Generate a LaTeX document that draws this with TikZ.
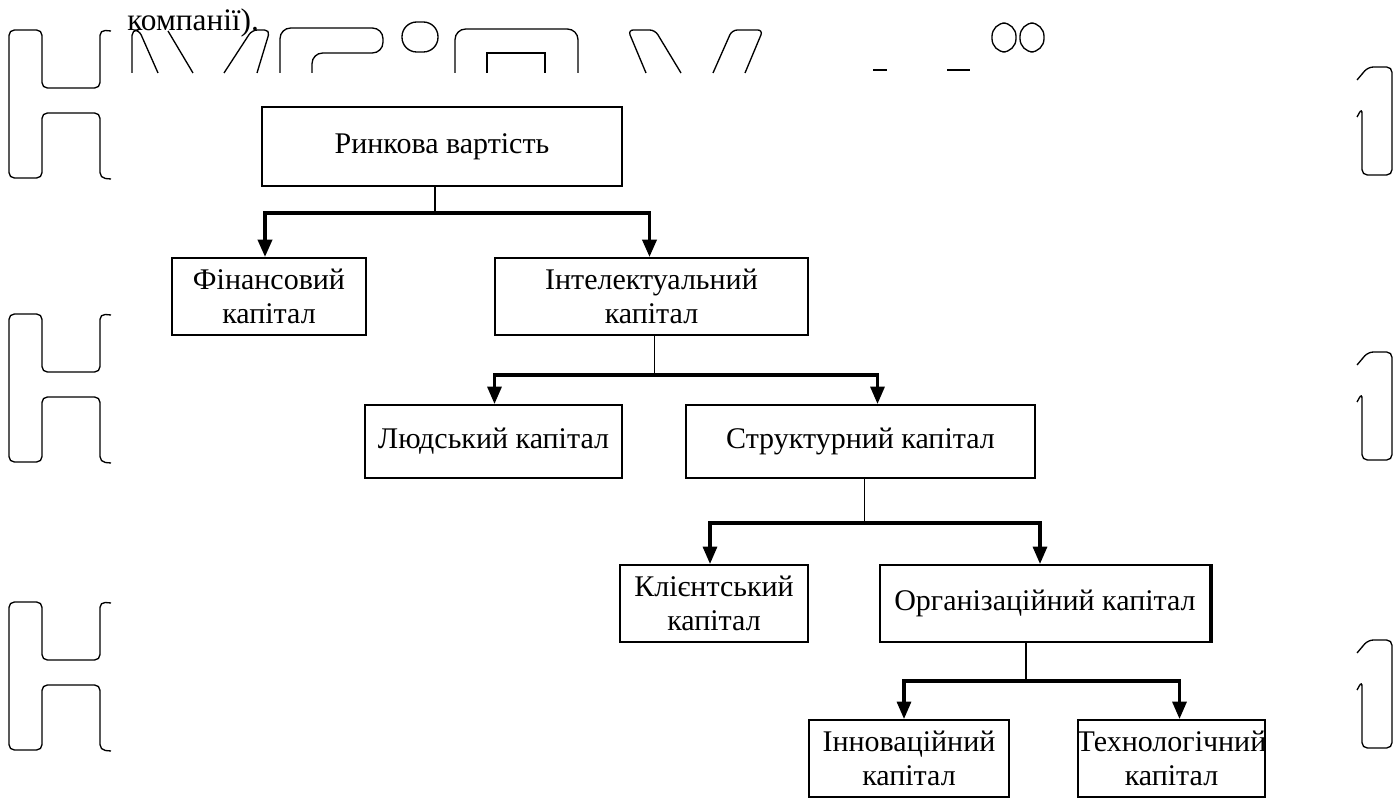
\documentclass[tikz,border=0pt]{standalone}
\usepackage{fontspec}
\setmainfont{Liberation Serif}
\usetikzlibrary{arrows.meta,calc}

\tikzset{
  box/.style={draw, line width=1.5pt, rectangle, inner sep=0pt, align=center,
              font=\fontsize{22.5}{25}\selectfont},
  sz/.style 2 args={minimum width={#1*0.75pt}, minimum height={#2*0.75pt}},
  stem/.style={line width=1.1pt},
  branch/.style={line width=2.3pt, -{Triangle[length=13pt,width=10.5pt]}},
  outline/.style={line width=1pt, rounded corners=4pt}
}

\begin{document}
\begin{tikzpicture}[x=0.75pt, y=-0.75pt]
  \path[use as bounding box] (0,0) rectangle (1399,798);
  \clip (0,0) rectangle (1399,798);

  % running text cut at the top of the page
  \node[anchor=base west, inner sep=0pt, font=\fontsize{23.5}{25}\selectfont] (cap) at (127,31) {компанії).};

  % outline letter fragments along the left edge
  \foreach \t in {30,314,602} {
    \draw[outline] (111,{\t+1}) -- (100,\t) -- (100,{\t+58}) -- (42,{\t+58}) -- (42,\t)
      -- (9,\t) -- (9,{\t+148}) -- (42,{\t+148}) -- (42,{\t+83}) -- (100,{\t+83})
      -- (100,{\t+148}) -- (111,{\t+149});
  }
  % outline letter fragments along the right edge
  \foreach \T in {67,352,640} {
    \draw[outline] (1357,{\T+13}) -- (1368,\T) -- (1392,\T) -- (1392,{\T+108})
      -- (1362,{\T+108}) -- (1362,{\T+41}) -- (1357,{\T+50});
  }
  % outline letter fragments along the top edge
  \draw[outline] (132,73) -- (132,30) -- (139,30) -- (158,73);
  \draw[outline] (168,31) -- (193,73);
  \draw[outline] (224,73) -- (252,30) -- (270,30) -- (257,73);
  \draw[outline, rounded corners=8pt] (280,73) -- (280,28) -- (383,28) -- (383,53) -- (312,53) [sharp corners] -- (312,73);
  \draw[line width=1pt, rounded corners=11pt] (402,22) rectangle (438,52);
  \draw[outline, rounded corners=8pt] (455,73) -- (455,29) -- (578,29) -- (578,73);
  \draw[line width=1pt] (487,73) -- (487,53) -- (545,53) -- (545,73);
  \draw[outline] (646,73) -- (628,30) -- (655,30) -- (681,73);
  \draw[outline] (713,73) -- (732,30) -- (763,30) -- (745,73);
  \draw[line width=1pt] (873,70) -- (887,70);
  \draw[line width=1pt] (947,70) -- (970,70);
  \draw[line width=1pt, rounded corners=10pt] (992,23) rectangle (1016,52);
  \draw[line width=1pt, rounded corners=10pt] (1020,23) rectangle (1044,52);

  % boxes
  \node[box, sz={360}{79}] (R) at (442,146.5) {Ринкова вартість};
  \node[box, sz={194}{77}] (F) at (269,296.5) {Фінансовий\\капітал};
  \node[box, sz={313}{77}] (I) at (651.5,296.5) {Інтелектуальний\\капітал};
  \node[box, sz={257}{73}] (L) at (493.5,441.5) {Людський капітал};
  \node[box, sz={349}{73}] (S) at (860.5,441.5) {Структурний капітал};
  \node[box, sz={188}{77}] (K) at (714,603.5) {Клієнтський\\капітал};
  \node[box, sz={330}{77}] (O) at (1045,603.5) {Організаційний капітал};
  \node[box, sz={200}{77}] (N) at (909,758.5) {Інноваційний\\капітал};
  \node[box, sz={187}{77}] (T) at (1171.5,758.5) {\makebox[0pt]{Технологічний}\\капітал};
  % heavier right edge of the organisational box
  \draw[line width=2.6pt] (O.north east) -- (O.south east);

  % level 1
  \coordinate (j1) at ($(R.south)+(-7,26)$);
  \draw[stem] ($(R.south)+(-7,0)$) -- (j1);
  \draw[branch, line width=2.7pt] (j1) -| ($(F.north)+(-4,0)$);
  \draw[branch, line width=2.7pt] (j1) -| ($(I.north)+(-2,0)$);

  % level 2
  \coordinate (j2) at ($(I.south)+(3,39)$);
  \draw[stem] ($(I.south)+(3,0)$) -- (j2);
  \draw[branch] (j2) -| ($(L.north)+(1,0)$);
  \draw[branch] (j2) -| ($(S.north)+(17,0)$);

  % level 3
  \coordinate (j3) at ($(S.south)+(4,44)$);
  \draw[stem] ($(S.south)+(4,0)$) -- (j3);
  \draw[branch] (j3) -| ($(K.north)+(-4,0)$);
  \draw[branch] (j3) -| ($(O.north)+(-5,0)$);

  % level 4
  \coordinate (j4) at ($(O.south)+(-19,38)$);
  \draw[stem] ($(O.south)+(-19,0)$) -- (j4);
  \draw[branch] (j4) -| ($(N.north)+(-5,0)$);
  \draw[branch] (j4) -| ($(T.north)+(8,0)$);
\end{tikzpicture}
\end{document}
